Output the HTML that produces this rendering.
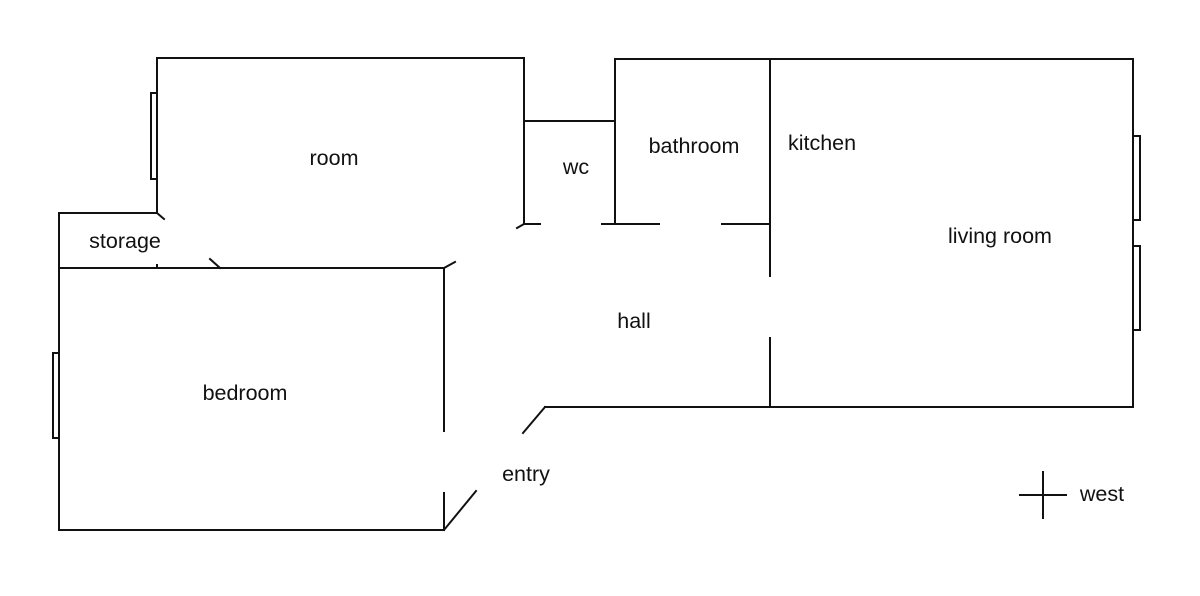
<!DOCTYPE html>
<html><head><meta charset="utf-8"><style>
html,body{margin:0;padding:0;background:#fff;width:1200px;height:596px;overflow:hidden}
svg{display:block}
text{font-family:"Liberation Sans",Arial,sans-serif;font-size:21.5px;fill:#111}
</style></head><body>
<svg width="1200" height="596" viewBox="0 0 1200 596" xmlns="http://www.w3.org/2000/svg">
<g stroke="#111" stroke-width="2" fill="none" stroke-linecap="square">
<polyline points="157,213 157,58 524,58 524,224"/>
<line x1="524" y1="224" x2="540" y2="224"/>
<line x1="524" y1="224" x2="517" y2="228"/>
<line x1="524" y1="121" x2="615" y2="121"/>
<line x1="615" y1="59" x2="615" y2="224"/>
<line x1="602" y1="224" x2="659" y2="224"/>
<line x1="615" y1="59" x2="1133" y2="59"/>
<line x1="770" y1="59" x2="770" y2="276"/>
<line x1="722" y1="224" x2="770" y2="224"/>
<line x1="770" y1="338" x2="770" y2="407"/>
<line x1="1133" y1="59" x2="1133" y2="407"/>
<line x1="545" y1="407" x2="1133" y2="407"/>
<line x1="545" y1="407" x2="523" y2="433"/>
<polyline points="157,213 59,213 59,530 444,530"/>
<line x1="157" y1="213" x2="164" y2="219"/>
<line x1="59" y1="268" x2="444" y2="268"/>
<line x1="210" y1="259" x2="220" y2="268"/>
<line x1="157" y1="265" x2="157" y2="268"/>
<line x1="444" y1="268" x2="444" y2="431"/>
<line x1="444" y1="268" x2="455" y2="262"/>
<line x1="444" y1="493" x2="444" y2="530"/>
<line x1="444" y1="530" x2="476" y2="491"/>
<rect x="151" y="93" width="6" height="86" fill="#fff"/>
<rect x="53" y="353" width="6" height="85" fill="#fff"/>
<rect x="1133" y="136" width="7" height="84" fill="#fff"/>
<rect x="1133" y="246" width="7" height="84" fill="#fff"/>
<line x1="1020" y1="495" x2="1066" y2="495"/>
<line x1="1043" y1="472" x2="1043" y2="518"/>
</g>
<g text-anchor="middle">
<text x="334" y="165">room</text>
<text x="576" y="174">wc</text>
<text x="694" y="153">bathroom</text>
<text x="822" y="150">kitchen</text>
<text x="1000" y="243">living room</text>
<text x="125" y="248">storage</text>
<text x="634" y="328">hall</text>
<text x="245" y="400">bedroom</text>
<text x="526" y="481">entry</text>
<text x="1102" y="501">west</text>
</g>
</svg>
</body></html>
